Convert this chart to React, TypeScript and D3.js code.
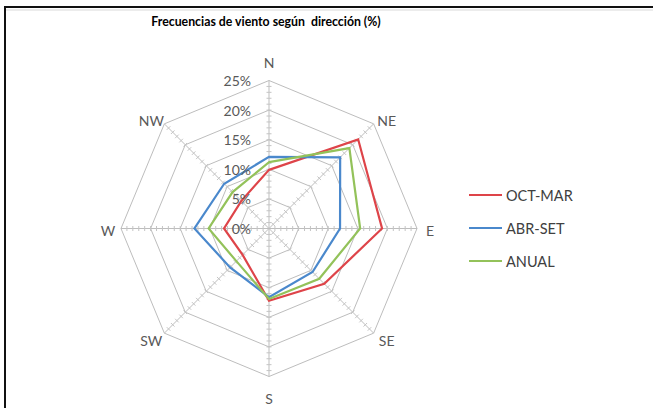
import React from "react";
import * as d3 from "d3";

const directions = ["N", "NE", "E", "SE", "S", "SW", "W", "NW"];
const octMar = [9.9, 21.3, 19.1, 13.2, 12.2, 6.3, 7.6, 6.6];
const abrSet = [12.1, 17.0, 12.0, 10.4, 11.6, 9.3, 12.6, 10.7];
const anual = [11.2, 19.2, 15.4, 12.0, 11.9, 7.8, 10.2, 8.7];
const tickValues = [0, 5, 10, 15, 20, 25];
const tickLabels = ["0%", "5%", "10%", "15%", "20%", "25%"];
const seriesNames = ["OCT-MAR", "ABR-SET", "ANUAL"];
const title = "Frecuencias de viento según  dirección (%)";

const W = 653;
const H = 408;
const cx = 269;
const cy = 228.5;
const R = 148;
const colors = ["#DE4449", "#4A88CC", "#93C25A"];
const FONT = "Lato, 'Open Sans', sans-serif";

export default function App() {
  const r = d3.scaleLinear().domain([0, 25]).range([0, R]);
  const n = directions.length;
  const ang = (i: number) => (i * 2 * Math.PI) / n;
  const pt = (i: number, v: number): [number, number] => [
    cx + Math.sin(ang(i)) * r(v),
    cy - Math.cos(ang(i)) * r(v),
  ];
  const radial = d3
    .lineRadial<number>()
    .angle((_, i) => ang(i))
    .radius((d) => r(d))
    .curve(d3.curveLinearClosed);
  const ring = (v: number) => radial(directions.map(() => v)) as string;
  const series = [octMar, abrSet, anual];

  const minor = d3.range(1, 25);
  const ticks: string[] = [];
  directions.forEach((_, i) => {
    const a = ang(i);
    const px = Math.cos(a);
    const py = Math.sin(a);
    minor.forEach((v) => {
      const [x, y] = pt(i, v);
      ticks.push(`M${x - px * 2.5},${y - py * 2.5}L${x + px * 2.5},${y + py * 2.5}`);
    });
  });

  return (
    <svg
      width={W}
      height={H}
      style={{ position: "absolute", left: 0, top: 0, background: "#fff" }}
    >
      <rect x={0} y={0} width={W} height={H} fill="#fff" />
      <line x1={5} y1={10} x2={W} y2={10} stroke="#d9d9d9" strokeWidth={1} />
      <path d={`M5,${H}V7H${W}`} fill="none" stroke="#111" strokeWidth={2} />
      <text
        x={266}
        y={21.5}
        textAnchor="middle"
        dominantBaseline="central"
        fontFamily={FONT}
        fontWeight="bold"
        fontSize={12.3}
        fill="#000"
        style={{ whiteSpace: "pre" }}
      >
        {title}
      </text>
      <g transform={`translate(${cx},${cy})`} fill="none" stroke="#bdbdbd" strokeWidth={1}>
        {tickValues.slice(1).map((v) => (
          <path key={v} d={ring(v)} />
        ))}
      </g>
      <g stroke="#bdbdbd" strokeWidth={1}>
        {directions.map((d, i) => {
          const [x, y] = pt(i, 25);
          return <line key={d} x1={cx} y1={cy} x2={x} y2={y} />;
        })}
        <path d={ticks.join("")} stroke="#c4c4c4" />
      </g>
      <g transform={`translate(${cx},${cy})`} fill="none" strokeWidth={2.2} strokeLinejoin="miter">
        {series.map((s, k) => (
          <path key={k} d={radial(s) as string} stroke={colors[k]} />
        ))}
      </g>
      {tickValues.map((v, k) => (
        <text
          key={v}
          x={cx - 18}
          y={cy - r(v)}
          textAnchor="end"
          dominantBaseline="central"
          fontFamily={FONT}
          fontSize={14}
          fill="#595959"
        >
          {tickLabels[k]}
        </text>
      ))}
      {directions.map((d, i) => {
        const a = ang(i);
        const s = Math.sin(a);
        const c = Math.cos(a);
        const [x, y] = pt(i, 25);
        const dx = Math.abs(s) > 0.1 ? Math.sign(s) * 13 : 0;
        const dy = -c * (Math.abs(s) < 0.1 ? 20 : 7) + 2;
        return (
          <text
            key={d}
            x={x + dx}
            y={y + dy}
            textAnchor="middle"
            dominantBaseline="central"
            fontFamily={FONT}
            fontSize={14}
            fill="#595959"
          >
            {d}
          </text>
        );
      })}
      {seriesNames.map((name, k) => {
        const y = 195 + k * 33;
        return (
          <g key={name}>
            <line x1={469} x2={502} y1={y} y2={y} stroke={colors[k]} strokeWidth={2} />
            <text
              x={506}
              y={y}
              dominantBaseline="central"
              fontFamily={FONT}
              fontSize={14.5}
              fill="#404040"
            >
              {name}
            </text>
          </g>
        );
      })}
    </svg>
  );
}
